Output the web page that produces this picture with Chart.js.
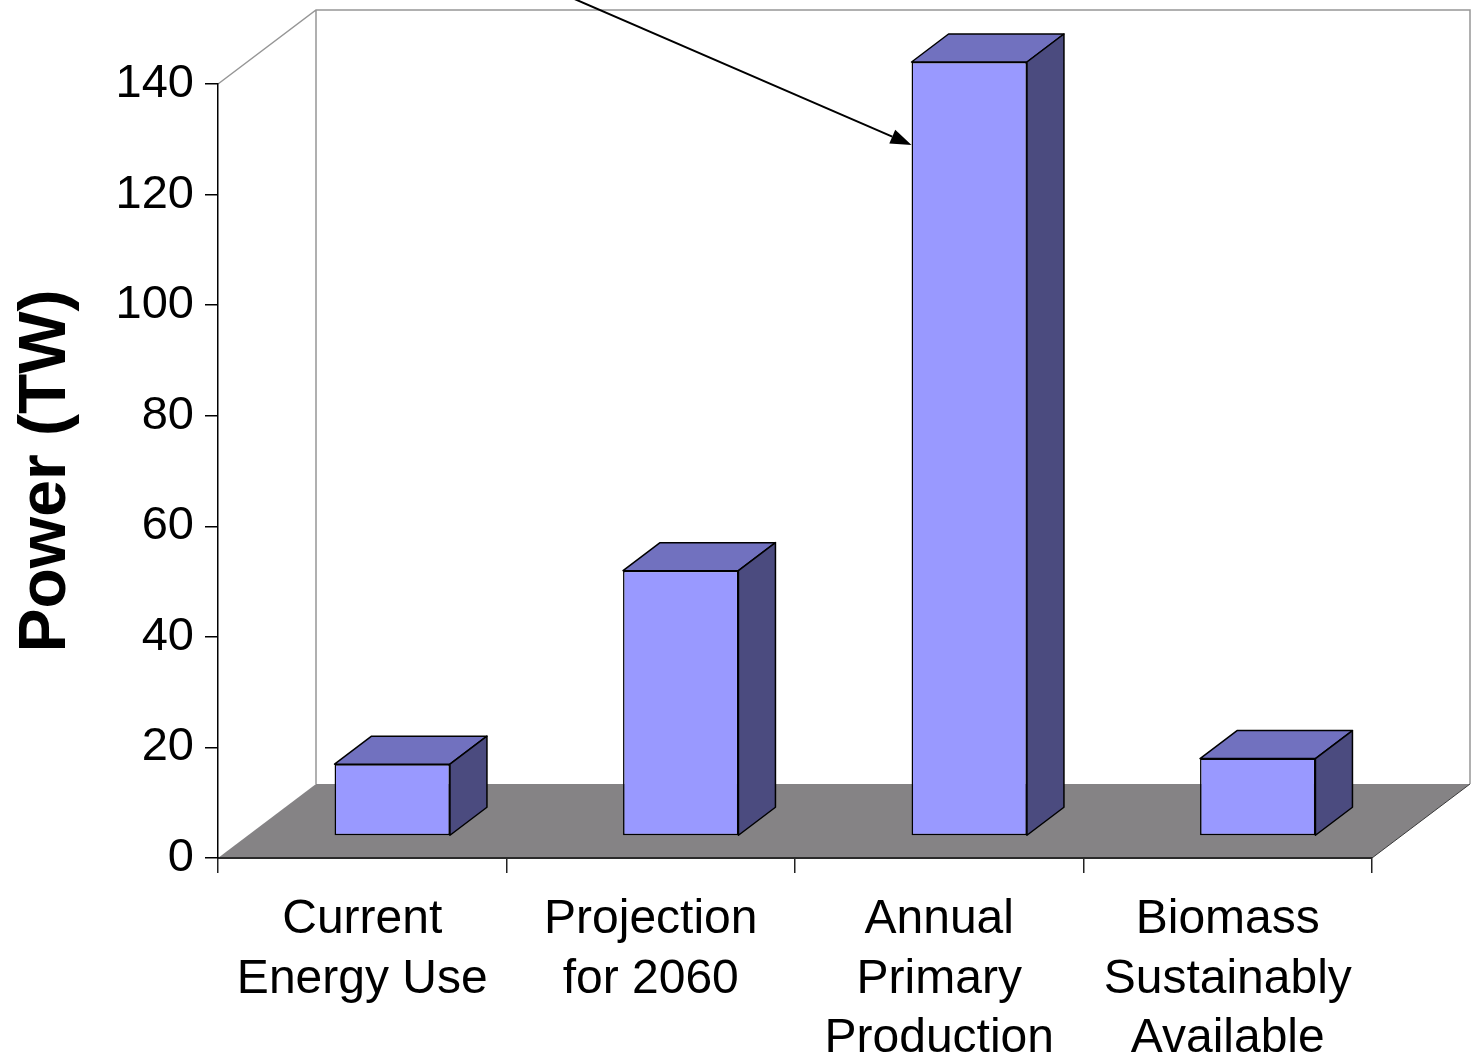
<!DOCTYPE html>
<html>
<head>
<meta charset="utf-8">
<script src="https://cdn.jsdelivr.net/npm/chart.js@4/dist/chart.umd.min.js"></script>
<style>
  html, body { margin: 0; padding: 0; background: #fff; overflow: hidden; }
  #wrap { width: 1476px; height: 1059px; position: relative; }
  canvas { display: block; }
</style>
</head>
<body>
<div id="wrap"><canvas id="chart" width="1476" height="1059"></canvas></div>
<script>
// Categories (multi-line labels) and values in terawatts
const categories = [
  ["Current", "Energy Use"],
  ["Projection", "for 2060"],
  ["Annual", "Primary", "Production"],
  ["Biomass", "Sustainably", "Available"]
];
const powerTW = [13, 48, 140, 14];
const yTicks = [0, 20, 40, 60, 80, 100, 120, 140];
const yTitle = "Power (TW)";
// value on the y axis where the pointer arrow touches the tallest bar
const arrowTargetValue = 125;
const arrowTargetIndex = 2;

const FONT = '"Liberation Sans", Arial, Helvetica, sans-serif';

// 3D projection offsets (pixels)
const DEPTH = { dx: 98, dy: -74 };      // full depth of floor / walls
const BAR_SHIFT = { dx: 30, dy: -22 };  // front face of bars inside the box
const BAR_DEPTH = { dx: 37, dy: -28 };  // thickness of each bar

const COLORS = {
  front: '#9999ff',
  top: '#7171bf',
  side: '#4b4b7f',
  floor: '#858385',
  wall: '#969696',
  edge: '#000'
};

function poly(ctx, pts, fill, stroke, lw) {
  ctx.beginPath();
  ctx.moveTo(pts[0][0], pts[0][1]);
  for (let i = 1; i < pts.length; i++) ctx.lineTo(pts[i][0], pts[i][1]);
  ctx.closePath();
  if (fill) { ctx.fillStyle = fill; ctx.fill(); }
  if (stroke) { ctx.strokeStyle = stroke; ctx.lineWidth = lw || 1; ctx.stroke(); }
}

const box3d = {
  id: 'box3d',
  beforeDraw(chart) {
    const ctx = chart.ctx;
    const x = chart.scales.x, y = chart.scales.y;
    const L = x.left, R = x.right;
    const y0 = y.getPixelForValue(y.min), yT = y.getPixelForValue(y.max);
    ctx.save();
    // walls (outline only)
    ctx.strokeStyle = COLORS.wall;
    ctx.lineWidth = 1.5;
    ctx.beginPath();
    ctx.moveTo(L, yT);
    ctx.lineTo(L + DEPTH.dx, yT + DEPTH.dy);
    ctx.lineTo(R + DEPTH.dx, yT + DEPTH.dy);
    ctx.lineTo(R + DEPTH.dx, y0 + DEPTH.dy);
    ctx.moveTo(L + DEPTH.dx, yT + DEPTH.dy);
    ctx.lineTo(L + DEPTH.dx, y0 + DEPTH.dy);
    ctx.stroke();
    // floor
    poly(ctx, [[L, y0], [R, y0], [R + DEPTH.dx, y0 + DEPTH.dy], [L + DEPTH.dx, y0 + DEPTH.dy]], COLORS.floor);
    ctx.strokeStyle = '#3a3a3a';
    ctx.lineWidth = 1;
    ctx.beginPath();
    ctx.moveTo(R, y0);
    ctx.lineTo(R + DEPTH.dx, y0 + DEPTH.dy);
    ctx.stroke();
    ctx.restore();
  },
  beforeDatasetsDraw(chart) {
    chart.ctx.save();
    chart.ctx.translate(BAR_SHIFT.dx, BAR_SHIFT.dy);
  },
  afterDatasetsDraw(chart) {
    const ctx = chart.ctx;
    const meta = chart.getDatasetMeta(0);
    meta.data.forEach(bar => {
      const p = bar.getProps(['x', 'y', 'base', 'width'], true);
      const x1 = p.x - p.width / 2, x2 = p.x + p.width / 2;
      const top = p.y, base = p.base;
      const dx = BAR_DEPTH.dx, dy = BAR_DEPTH.dy;
      ctx.lineJoin = 'round';
      poly(ctx, [[x1, top], [x2, top], [x2 + dx, top + dy], [x1 + dx, top + dy]], COLORS.top, COLORS.edge, 1.5);
      poly(ctx, [[x2, top], [x2 + dx, top + dy], [x2 + dx, base + dy], [x2, base]], COLORS.side, COLORS.edge, 1.5);
    });
    ctx.restore();
  },
  afterDraw(chart) {
    // pointer arrow onto the tallest bar
    const ctx = chart.ctx;
    const bar = chart.getDatasetMeta(0).data[arrowTargetIndex];
    const p = bar.getProps(['x', 'width'], true);
    const tx = p.x - p.width / 2 + BAR_SHIFT.dx;
    const ty = chart.scales.y.getPixelForValue(arrowTargetValue) + BAR_SHIFT.dy;
    const sx = tx - 365, sy = ty - 158;
    const ang = Math.atan2(ty - sy, tx - sx);
    const hl = 21, hw = 7.5;
    const bx = tx - hl * Math.cos(ang), by = ty - hl * Math.sin(ang);
    ctx.save();
    ctx.strokeStyle = '#000';
    ctx.lineWidth = 2;
    ctx.beginPath();
    ctx.moveTo(sx, sy);
    ctx.lineTo(bx, by);
    ctx.stroke();
    ctx.fillStyle = '#000';
    ctx.beginPath();
    ctx.moveTo(tx, ty);
    ctx.lineTo(bx + hw * Math.sin(ang), by - hw * Math.cos(ang));
    ctx.lineTo(bx - hw * Math.sin(ang), by + hw * Math.cos(ang));
    ctx.closePath();
    ctx.fill();
    ctx.restore();
  }
};

new Chart(document.getElementById('chart'), {
  type: 'bar',
  data: {
    labels: categories,
    datasets: [{
      data: powerTW,
      backgroundColor: COLORS.front,
      borderColor: COLORS.edge,
      borderWidth: 1.5,
      borderSkipped: false,
      categoryPercentage: 1,
      barPercentage: 0.4
    }]
  },
  options: {
    responsive: false,
    animation: false,
    devicePixelRatio: 1,
    layout: { padding: { top: 84, right: 104, left: 0, bottom: 0 } },
    plugins: { legend: { display: false }, tooltip: { enabled: false } },
    scales: {
      x: {
        offset: true,
        grid: { offset: true, drawOnChartArea: false, tickLength: 15, color: '#222', lineWidth: 1.5 },
        border: { color: '#2a2a2a', width: 2 },
        ticks: {
          color: '#000',
          font: { family: FONT, size: 48, lineHeight: 1.24 },
          padding: 17,
          maxRotation: 0,
          autoSkip: false
        },
        afterFit(s) { s.height = 201; }
      },
      y: {
        min: 0,
        max: 140,
        afterBuildTicks(s) { s.ticks = yTicks.map(v => ({ value: v })); },
        grid: { drawOnChartArea: false, tickLength: 13, color: '#000', lineWidth: 1.5 },
        border: { color: '#000', width: 1.5 },
        ticks: {
          color: '#000',
          font: { family: FONT, size: 47 },
          padding: 11
        },
        title: {
          display: true,
          text: yTitle,
          color: '#000',
          font: { family: FONT, size: 66, weight: 'bold' },
          padding: { top: 7, bottom: 0 }
        },
        afterFit(s) { s.width = 218; }
      }
    }
  },
  plugins: [box3d]
});
</script>
</body>
</html>
